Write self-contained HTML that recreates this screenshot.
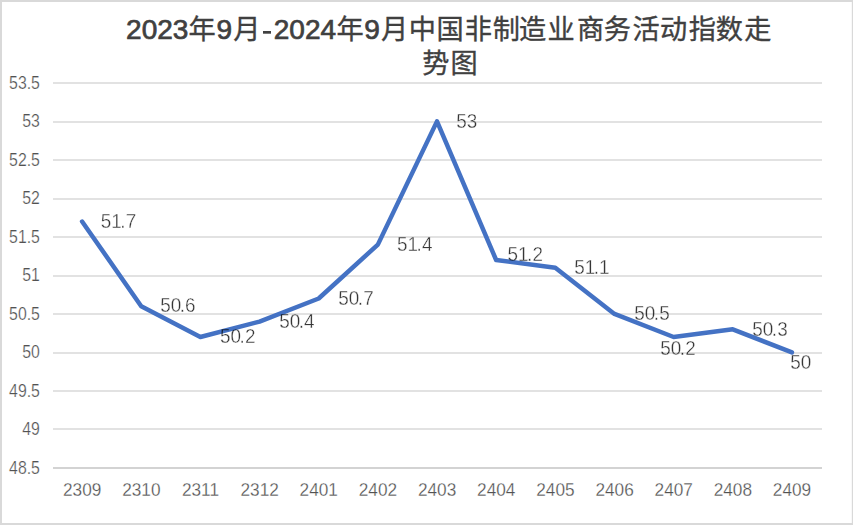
<!DOCTYPE html>
<html lang="zh-CN">
<head>
<meta charset="utf-8">
<title>2023年9月-2024年9月中国非制造业商务活动指数走势图</title>
<style>
html,body{margin:0;padding:0;background:#fff;}
body{width:853px;height:525px;overflow:hidden;font-family:"Liberation Sans",sans-serif;}
svg{display:block;}
text{font-family:"Liberation Sans",sans-serif;}
.ax{font-size:18px;fill:#525252;stroke:#fff;stroke-width:0.25;}
.dl{font-size:19.8px;fill:#363636;stroke:#fff;stroke-width:0.35;mix-blend-mode:multiply;}
.tt{font-size:28px;fill:#404040;stroke:#404040;stroke-width:0.7;}
.cjk{fill:#404040;stroke:#404040;stroke-width:0.35;}
.cjk text{font-family:"Liberation Sans","Noto Sans CJK SC",sans-serif;font-size:27.2px;}
</style>
</head>
<body>
<svg width="853" height="525" viewBox="0 0 853 525" role="img" aria-label="2023年9月-2024年9月中国非制造业商务活动指数走势图">
<title>2023年9月-2024年9月中国非制造业商务活动指数走势图</title>
<rect x="0" y="0" width="853" height="525" fill="#d9d9d9"/>
<rect x="2" y="2" width="849.8" height="521" fill="#fff"/>
<g fill="#e2e2e2">
<rect x="53" y="82" width="769" height="2"/>
<rect x="53" y="121" width="769" height="2"/>
<rect x="53" y="159" width="769" height="2"/>
<rect x="53" y="198" width="769" height="2"/>
<rect x="53" y="236" width="769" height="2"/>
<rect x="53" y="275" width="769" height="2"/>
<rect x="53" y="313" width="769" height="2"/>
<rect x="53" y="352" width="769" height="2"/>
<rect x="53" y="390" width="769" height="2"/>
<rect x="53" y="428" width="769" height="2"/>
<rect x="53" y="467" width="769" height="2" fill="#d3d3d3"/>
</g>
<g class="ax" text-anchor="end">
<text transform="translate(39.9 88.50) scale(0.88 1)">53.5</text>
<text transform="translate(39.9 127.00) scale(0.88 1)">53</text>
<text transform="translate(39.9 165.50) scale(0.88 1)">52.5</text>
<text transform="translate(39.9 204.00) scale(0.88 1)">52</text>
<text transform="translate(39.9 242.50) scale(0.88 1)">51.5</text>
<text transform="translate(39.9 281.00) scale(0.88 1)">51</text>
<text transform="translate(39.9 319.50) scale(0.88 1)">50.5</text>
<text transform="translate(39.9 358.00) scale(0.88 1)">50</text>
<text transform="translate(39.9 396.50) scale(0.88 1)">49.5</text>
<text transform="translate(39.9 435.00) scale(0.88 1)">49</text>
<text transform="translate(39.9 473.50) scale(0.88 1)">48.5</text>
</g>
<g class="ax" text-anchor="middle">
<text transform="translate(82.18 495.6) scale(0.958 1)">2309</text>
<text transform="translate(141.33 495.6) scale(0.958 1)">2310</text>
<text transform="translate(200.48 495.6) scale(0.958 1)">2311</text>
<text transform="translate(259.64 495.6) scale(0.958 1)">2312</text>
<text transform="translate(318.79 495.6) scale(0.958 1)">2401</text>
<text transform="translate(377.95 495.6) scale(0.958 1)">2402</text>
<text transform="translate(437.10 495.6) scale(0.958 1)">2403</text>
<text transform="translate(496.25 495.6) scale(0.958 1)">2404</text>
<text transform="translate(555.41 495.6) scale(0.958 1)">2405</text>
<text transform="translate(614.56 495.6) scale(0.958 1)">2406</text>
<text transform="translate(673.72 495.6) scale(0.958 1)">2407</text>
<text transform="translate(732.87 495.6) scale(0.958 1)">2408</text>
<text transform="translate(792.02 495.6) scale(0.958 1)">2409</text>
</g>
<polyline points="82.08,221.50 141.23,306.20 200.38,337.00 259.54,321.60 318.69,298.50 377.85,244.60 437.00,121.40 496.15,260.00 555.31,267.70 614.46,313.90 673.62,337.00 732.77,329.30 791.92,352.40" fill="none" stroke="#4472c4" stroke-width="4.5" stroke-linejoin="round" stroke-linecap="round"/>
<g class="dl">
<text transform="translate(100.74 228.01) scale(0.955 1)">51<tspan dx="-1.57">.</tspan><tspan dx="0.21">7</tspan></text>
<text transform="translate(160.14 311.86) scale(0.955 1)">50<tspan dx="-1.57">.</tspan><tspan dx="0.21">6</tspan></text>
<text transform="translate(220.04 342.71) scale(0.955 1)">50<tspan dx="-1.57">.</tspan><tspan dx="0.21">2</tspan></text>
<text transform="translate(279.14 328.21) scale(0.955 1)">50<tspan dx="-1.57">.</tspan><tspan dx="0.21">4</tspan></text>
<text transform="translate(338.19 304.91) scale(0.955 1)">50<tspan dx="-1.57">.</tspan><tspan dx="0.21">7</tspan></text>
<text transform="translate(396.99 251.11) scale(0.955 1)">51<tspan dx="-1.57">.</tspan><tspan dx="0.21">4</tspan></text>
<text transform="translate(456.14 127.91) scale(0.955 1)">53</text>
<text transform="translate(507.44 261.01) scale(0.955 1)">51<tspan dx="-1.57">.</tspan><tspan dx="0.21">2</tspan></text>
<text transform="translate(574.14 273.81) scale(0.955 1)">51<tspan dx="-1.57">.</tspan><tspan dx="0.21">1</tspan></text>
<text transform="translate(634.24 319.91) scale(0.955 1)">50<tspan dx="-1.57">.</tspan><tspan dx="0.21">5</tspan></text>
<text transform="translate(660.29 354.91) scale(0.955 1)">50<tspan dx="-1.57">.</tspan><tspan dx="0.21">2</tspan></text>
<text transform="translate(752.24 335.91) scale(0.955 1)">50<tspan dx="-1.57">.</tspan><tspan dx="0.21">3</tspan></text>
<text transform="translate(790.34 368.81) scale(0.955 1)">50</text>
</g>
<g class="tt">
<text x="126.1" y="38.7">2023</text>
<text x="216.5" y="38.7">9</text>
<text x="273.8" y="38.7">2024</text>
<text x="364.2" y="38.7">9</text>
</g>
<rect x="263" y="31" width="8" height="2.7" fill="#404040"/>
<g class="cjk">
<text x="188.50" y="39.3">年</text>
<text x="233.19" y="39.3">月</text>
<text x="336.39" y="39.3">年</text>
<text x="380.99" y="39.3">月</text>
<text x="408.63 436.59 464.72 492.83 519.10 547.53 576.88 603.75 632.43 659.90 688.67 715.71 744.30" y="39.3">中国非制造业商务活动指数走</text>
<text x="422.31 450.44" y="73.1">势图</text>
</g>
</svg>
</body>
</html>
